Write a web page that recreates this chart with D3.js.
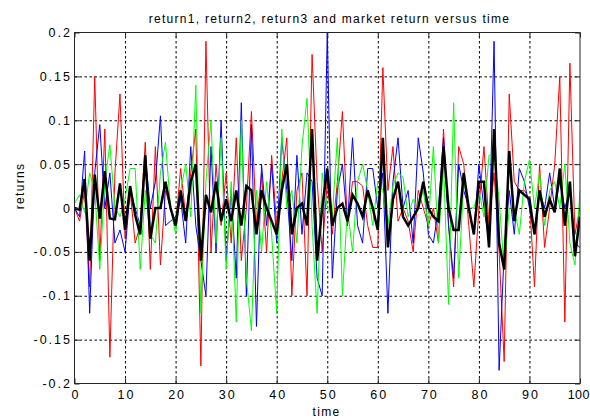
<!DOCTYPE html>
<html>
<head>
<meta charset="utf-8">
<script src="https://cdn.jsdelivr.net/npm/d3@7"></script>
<style>
  html, body { margin: 0; padding: 0; background: #fff; }
  svg { display: block; }
  text { font-family: "Liberation Sans", Arial, sans-serif; fill: #000; }
</style>
</head>
<body>
<svg id="chart" width="590" height="420"></svg>
<script>
// Time axis: one observation per unit of time
const time = d3.range(0, 101);

// Asset returns
const return1 = [
  0, -0.015, 0.02, -0.09, 0.15, -0.06, 0.09, -0.17, 0.04, 0.13,
  -0.035, 0.02, -0.04, -0.02, 0.075, -0.07, 0.07, -0.065, 0.02, 0.0,
  -0.02, 0.045, -0.01, 0.04, 0.09, -0.18, 0.19, -0.05, 0.05, -0.02,
  0.04, -0.04, 0.08, -0.06, 0.0, 0.11, -0.02, 0.04, -0.05, 0.06,
  -0.02, 0.03, 0.08, -0.1, 0.02, 0.04, -0.1, 0.175, 0.03, -0.05,
  0.03, -0.03, 0.03, 0.11, -0.02, 0.03, 0.03, 0.025, -0.02, -0.045,
  -0.045, 0.16, 0.02, 0.07, -0.015, 0.0, -0.015, -0.05, 0.02, 0.0,
  -0.02, 0.0, -0.04, 0.09, -0.02, -0.09, 0.07, 0.05, -0.02, -0.09,
  0.0, 0.07, -0.02, 0.04, -0.05, -0.175, 0.13, 0.03, 0.02, 0.02,
  0.01, -0.09, 0.05, -0.045, 0.0, 0.05, 0.15, -0.13, 0.165, -0.03,
  0.0
];

const return2 = [
  0, -0.01, 0.065, -0.12, 0.04, 0.095, 0.0, 0.04, -0.04, -0.025,
  -0.05, 0.02, 0.0, -0.02, 0.06, 0.0, 0.03, 0.105, -0.02, -0.015,
  -0.01, 0.01, -0.04, 0.07, -0.02, -0.06, -0.1, 0.07, -0.05, 0.1,
  -0.06, 0.02, -0.08, 0.12, -0.1, 0.095, -0.135, 0.05, -0.02, 0.05,
  -0.04, 0.08, 0.02, -0.06, 0.06, -0.03, 0.04, 0.03, -0.08, -0.1,
  0.2, -0.08, 0.02, 0.05, -0.02, 0.08, -0.02, -0.04, 0.045, 0.045,
  0.0, 0.04, -0.12, 0.03, 0.08, 0.0, 0.02, -0.04, 0.08, 0.04,
  -0.03, -0.04, 0.0, 0.08, -0.02, -0.08, 0.05, 0.02, 0.0, -0.03,
  0.05, 0.0, -0.04, 0.19, -0.185, -0.05, 0.02, -0.03, 0.045, 0.03,
  0.0, -0.03, 0.02, 0.0, 0.04, 0.0, 0.03, 0.0, 0.02, -0.04,
  -0.045
];

const return3 = [
  0.005, 0.015, -0.005, 0.04, 0.02, -0.07, 0.03, 0.072, 0.0, -0.01,
  0.01, 0.045, 0.045, -0.07, 0.02, -0.03, -0.04, 0.04, 0.075, 0.0,
  -0.03, 0.02, 0.05, -0.01, 0.14, -0.12, 0.03, 0.1, -0.04, 0.08,
  -0.07, 0.03, -0.13, 0.1, -0.08, -0.14, 0.02, -0.05, 0.03, -0.03,
  -0.12, 0.09, 0.0, 0.02, -0.04, 0.07, 0.125, -0.02, -0.12, 0.04,
  0.0, -0.01, 0.08, -0.1, 0.0, -0.05, 0.03, 0.05, 0.02, -0.02,
  0.03, 0.02, -0.02, 0.025, 0.04, 0.035, -0.01, 0.01, 0.0, 0.02,
  -0.02, 0.07, -0.04, 0.05, -0.11, 0.12, -0.08, 0.03, 0.0, 0.0,
  0.02, -0.01, 0.06, 0.06, 0.01, -0.07, 0.0, 0.0, -0.03, 0.03,
  0.055, 0.0, 0.04, -0.02, 0.02, 0.03, 0.0, 0.05, -0.04, -0.065,
  0.02
];

// Market return
const marketReturn = [
  0, -0.002, 0.033, -0.06, 0.038, -0.012, 0.042, -0.012, -0.013, 0.028,
  -0.025, 0.025, -0.008, -0.03, 0.06, -0.035, 0.0, 0.0, 0.03, 0.0,
  -0.02, 0.02, -0.015, 0.03, 0.05, -0.06, 0.015, -0.005, 0.03, -0.015,
  0.01, -0.015, 0.02, -0.02, 0.025, 0.02, -0.03, 0.02, 0.0, -0.015,
  -0.03, 0.02, 0.05, -0.03, 0.0, 0.005, -0.02, 0.09, -0.06, 0.0,
  0.045, -0.02, 0.0, 0.005, -0.015, 0.015, 0.005, -0.01, 0.02, 0.0,
  -0.025, 0.08, -0.045, 0.01, 0.03, -0.01, -0.02, -0.01, 0.0, 0.03,
  0.0, -0.01, -0.015, 0.07, 0.0, -0.025, -0.025, 0.04, 0.0, -0.03,
  0.03, 0.03, -0.045, 0.09, -0.04, -0.07, 0.065, -0.015, 0.02, 0.015,
  0.01, -0.03, 0.02, -0.01, 0.01, -0.005, 0.045, -0.02, 0.03, -0.055,
  -0.01
];

// Axis ticks
const xTicks = [0, 10, 20, 30, 40, 50, 60, 70, 80, 90, 100];
const yTicks = [-0.2, -0.15, -0.1, -0.05, 0, 0.05, 0.1, 0.15, 0.2];
const yTickLabels = ["-0.2", "-0.15", "-0.1", "-0.05", "0", "0.05", "0.1", "0.15", "0.2"];

const svg = d3.select("#chart");
const plot = { left: 74.5, right: 580, top: 32.5, bottom: 383.5 };
const w = plot.right - plot.left, h = plot.bottom - plot.top;

const x = d3.scaleLinear().domain([0, 100]).range([plot.left, plot.right]);
const y = d3.scaleLinear().domain([-0.2, 0.2]).range([plot.bottom, plot.top]);

svg.append("rect").attr("width", 590).attr("height", 420).attr("fill", "#fff");

// Dotted grid
const grid = svg.append("g").attr("class", "grid");
grid.append("g")
  .attr("transform", `translate(0,${plot.bottom})`)
  .call(d3.axisBottom(x).tickValues(xTicks.slice(1, -1)).tickSize(-h).tickFormat(""))
  .call(g => g.select(".domain").remove());
grid.append("g")
  .attr("transform", `translate(${plot.left},0)`)
  .call(d3.axisLeft(y).tickValues(yTicks.slice(1, -1)).tickSize(-w).tickFormat(""))
  .call(g => g.select(".domain").remove());
grid.selectAll("line")
  .attr("stroke", "#000")
  .attr("stroke-width", 1)
  .attr("stroke-dasharray", "2.5,2.5");

// Series
svg.append("clipPath").attr("id", "plot-clip")
  .append("rect").attr("x", plot.left).attr("y", plot.top).attr("width", w).attr("height", h);

const line = d3.line().x((d, i) => x(time[i])).y(d => y(d));
const series = [
  { values: return1, color: "#ff0000", width: 1 },
  { values: return2, color: "#0000ff", width: 1 },
  { values: return3, color: "#00ff00", width: 1 },
  { values: marketReturn, color: "#000000", width: 2.5 }
];
svg.append("g").attr("clip-path", "url(#plot-clip)")
  .selectAll("path").data(series).join("path")
  .attr("d", d => line(d.values))
  .attr("fill", "none")
  .attr("stroke", d => d.color)
  .attr("stroke-width", d => d.width)
  .attr("stroke-linejoin", "miter");

// Axes box with inward ticks on all four sides
const tickLen = 5;
const tickFont = g => {
  g.select(".domain").remove();
  g.selectAll(".tick line").attr("stroke", "#262626");
  g.selectAll(".tick text").attr("font-size", 12.5).attr("letter-spacing", "2px").attr("fill", "#000");
};
svg.append("g")
  .attr("transform", `translate(0,${plot.bottom})`)
  .call(d3.axisBottom(x).tickValues(xTicks).tickSize(-tickLen).tickPadding(7).tickFormat(d3.format("d")))
  .call(tickFont)
  .call(g => g.selectAll(".tick text").attr("dx", 1))
  // the last label sits against the window edge: keep it inside
  .call(g => g.selectAll(".tick text").filter(d => d === 100)
    .attr("letter-spacing", "0.5px").attr("text-anchor", "end").attr("dx", 9.5));
svg.append("g")
  .attr("transform", `translate(0,${plot.top})`)
  .call(d3.axisTop(x).tickValues(xTicks).tickSize(-tickLen).tickFormat(""))
  .call(tickFont);
svg.append("g")
  .attr("transform", `translate(${plot.left},0)`)
  .call(d3.axisLeft(y).tickValues(yTicks).tickSize(-tickLen).tickPadding(4.5)
    .tickFormat((d, i) => yTickLabels[i]))
  .call(tickFont)
  .call(g => g.selectAll(".tick text").attr("dx", 2));
svg.append("g")
  .attr("transform", `translate(${plot.right},0)`)
  .call(d3.axisRight(y).tickValues(yTicks).tickSize(-tickLen).tickFormat(""))
  .call(tickFont);

svg.append("rect")
  .attr("x", plot.left).attr("y", plot.top).attr("width", w).attr("height", h)
  .attr("fill", "none").attr("stroke", "#262626").attr("stroke-width", 1);

// Titles
const label = (sel) => sel.attr("font-size", 12).attr("letter-spacing", "1.3px").attr("text-anchor", "middle");
svg.append("text")
  .attr("x", 329.5).attr("y", 23)
  .call(label)
  .text("return1, return2, return3 and market return versus time");
svg.append("text")
  .attr("x", 326.5).attr("y", 415.5)
  .call(label)
  .text("time");
svg.append("text")
  .attr("transform", "translate(24,186) rotate(-90)")
  .call(label)
  .text("returns");
</script>
</body>
</html>
